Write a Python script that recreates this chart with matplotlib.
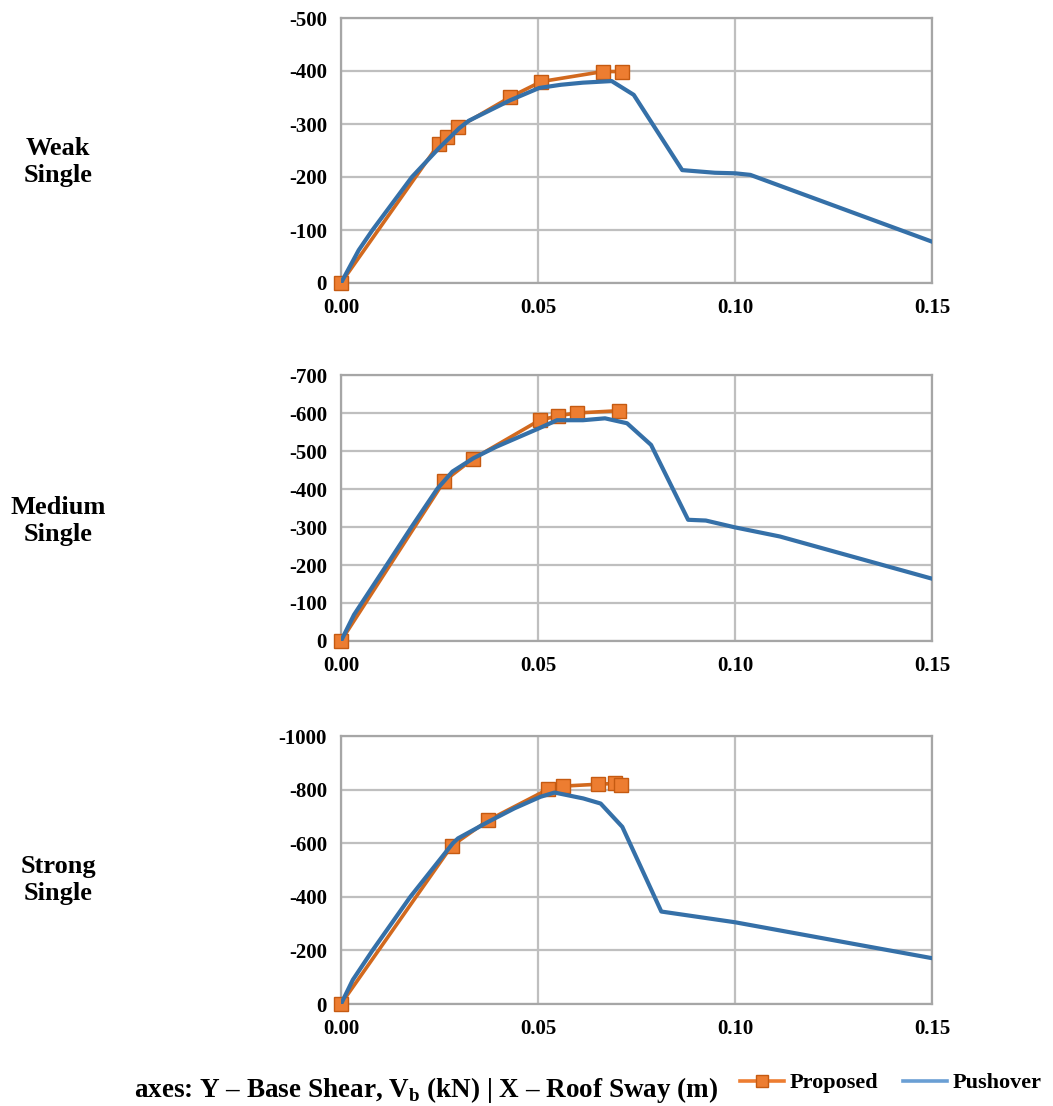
import matplotlib
matplotlib.use("Agg")
import matplotlib.pyplot as plt
from matplotlib.lines import Line2D

plt.rcParams['font.family'] = ['Liberation Serif', 'DejaVu Serif']
plt.rcParams['font.weight'] = 'bold'
plt.rcParams['axes.unicode_minus'] = False
plt.rcParams['mathtext.fontset'] = 'custom'
plt.rcParams['mathtext.bf'] = 'Liberation Serif:bold'
plt.rcParams['mathtext.rm'] = 'Liberation Serif:bold'

# ---------------- data ----------------
panel_names = ["Weak\nSingle", "Medium\nSingle", "Strong\nSingle"]

weak_prop_x = [0.0, 0.0248, 0.0268, 0.0298, 0.0430, 0.0508, 0.0665, 0.0713]
weak_prop_y = [0, -262, -276, -294, -351, -380, -399, -399]
weak_push_x = [0.0, 0.0045, 0.008, 0.018, 0.0248, 0.0300, 0.0324, 0.0430, 0.0503,
               0.0558, 0.0614, 0.0687, 0.0743, 0.0866, 0.0949, 0.1000, 0.1039, 0.1500]
weak_push_y = [0, -62, -100, -200, -254, -292, -306, -345, -368,
               -374, -378, -381, -355, -213, -208, -207, -204, -78]

med_prop_x = [0.0, 0.0262, 0.0336, 0.0504, 0.0552, 0.0598, 0.0705]
med_prop_y = [0, -421, -480, -581, -593, -600, -606]
med_push_x = [0.0, 0.0033, 0.0116, 0.0179, 0.0244, 0.0283, 0.0336, 0.0394, 0.0501,
              0.0548, 0.0614, 0.0670, 0.0726, 0.0787, 0.0881, 0.0926, 0.1000, 0.1114, 0.1500]
med_push_y = [0, -69, -200, -300, -400, -446, -481, -511, -559,
              -581, -581, -586, -573, -516, -319, -317, -299, -275, -164]

str_prop_x = [0.0, 0.0281, 0.0374, 0.0525, 0.0564, 0.0652, 0.0695, 0.0710]
str_prop_y = [0, -590, -686, -801, -813, -820, -823, -819]
str_push_x = [0.0, 0.0030, 0.0080, 0.0176, 0.0284, 0.0297, 0.0374, 0.0440, 0.0506,
              0.0542, 0.0615, 0.0659, 0.0714, 0.0813, 0.1000, 0.1500]
str_push_y = [0, -90, -200, -400, -600, -618, -680, -730, -773,
              -789, -767, -748, -661, -345, -305, -171]

x_ticks = [0.00, 0.05, 0.10, 0.15]
x_ticklabels = ["0.00", "0.05", "0.10", "0.15"]
y_ticks = [[0, -100, -200, -300, -400, -500],
           [0, -100, -200, -300, -400, -500, -600, -700],
           [0, -200, -400, -600, -800, -1000]]

prop_x = [weak_prop_x, med_prop_x, str_prop_x]
prop_y = [weak_prop_y, med_prop_y, str_prop_y]
push_x = [weak_push_x, med_push_x, str_push_x]
push_y = [weak_push_y, med_push_y, str_push_y]

# ---------------- figure ----------------
W, H = 1053, 1106
fig = plt.figure(figsize=(W / 100, H / 100), dpi=100)

left_px, right_px = 341, 932
panels_px = [(18, 283), (375, 641), (736, 1004)]
label_y_px = [162, 521, 880]

blue = '#3570A8'
orange_line = '#D2691E'
orange_fill = '#ED7D31'
orange_edge = '#C55A11'
grid_c = '#BFBFBF'

for i, (top, bot) in enumerate(panels_px):
    ax = fig.add_axes([left_px / W, 1 - bot / H, (right_px - left_px) / W, (bot - top) / H])
    ax.plot(prop_x[i], prop_y[i], color=orange_line, lw=2.6, marker='s', ms=10,
            mfc=orange_fill, mec=orange_edge, mew=1.0, zorder=3, clip_on=False)
    ax.plot(push_x[i], push_y[i], color=blue, lw=3.0, zorder=4, solid_joinstyle='round')
    ax.set_xlim(0, 0.15)
    yt = y_ticks[i]
    ax.set_ylim(0, yt[-1])
    ax.set_yticks(yt)
    ax.set_yticklabels([str(v) for v in yt])
    ax.set_xticks(x_ticks)
    ax.set_xticklabels(x_ticklabels)
    ax.grid(True, color=grid_c, lw=1.6)
    ax.set_axisbelow(True)
    for s in ax.spines.values():
        s.set_color('#A6A6A6')
        s.set_linewidth(1.6)
    ax.tick_params(length=0, labelsize=15)
    ax.tick_params(axis='y', pad=10)
    ax.tick_params(axis='x', pad=11)
    for lab in ax.get_xticklabels() + ax.get_yticklabels():
        lab.set_fontweight('bold')
    fig.text(58 / W, 1 - label_y_px[i] / H, panel_names[i], ha='center', va='center',
             fontsize=19, fontweight='bold', linespacing=1.2)

fig.text(426 / W, 1 - 1090 / H,
         r"axes: Y – Base Shear, V$_{\mathbf{b}}$ (kN) | X – Roof Sway (m)",
         ha='center', va='center', fontsize=19.5, fontweight='bold')

handles = [Line2D([], [], color=orange_fill, lw=2.6, marker='s', ms=9,
                  mfc=orange_fill, mec=orange_edge),
           Line2D([], [], color='#6A9FD4', lw=2.6)]
fig.legend(handles, ["Proposed", "Pushover"], loc='center',
           bbox_to_anchor=(0.846, 1 - 1083 / H), ncol=2, frameon=False,
           prop={'family': 'Liberation Serif', 'weight': 'bold', 'size': 16},
           handlelength=2.0, handletextpad=0.25, columnspacing=1.1)

fig.savefig("out.png", dpi=100)
